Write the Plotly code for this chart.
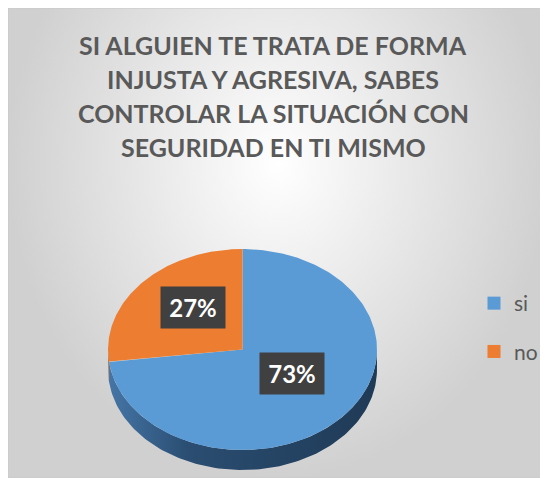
import numpy as np
import plotly.graph_objects as go

# ---- data ----
labels = ["si", "no"]
values = [73, 27]
slice_colors = ["#5B9BD5", "#ED7D31"]
side_scales = [
    [[0, "#4575a6"], [0.3, "#2a4d71"], [1, "#1f3a56"]],
    [[0, "#a85a22"], [1, "#8a4a1c"]],
]
title_lines = [
    "SI ALGUIEN TE TRATA DE FORMA",
    "INJUSTA Y AGRESIVA, SABES",
    "CONTROLAR LA SITUACIÓN CON",
    "SEGURIDAD EN TI MISMO",
]

# ---- geometry (layout constants, page pixel coordinates) ----
X0, Y0 = 8, 8          # page body margin offset
XE, YE = 548, 478      # window edges
FW, FH = XE - X0, YE - Y0
CX, CY, RX, RY, DEPTH = 242.5, 349.5, 134.5, 100.5, 20
LABEL_R, LABEL_DY = 0.49, -9
FONT = "Lato"
TXT = "#595959"

fig = go.Figure()

# background with radial gradient
fig.add_trace(go.Scatter(
    x=[X0, XE, XE, X0, X0], y=[-150, -150, YE, YE, -150],
    mode="lines", fill="toself", line=dict(width=0),
    fillgradient=dict(type="radial", colorscale=[[0, "#ffffff"], [1, "#d0d0d0"]]),
    hoverinfo="skip", showlegend=False,
))

total = float(sum(values))
fracs = np.array(values) / total
ends = np.cumsum(fracs) * 360.0
starts = ends - fracs * 360.0


def ell(theta_deg, dy=0.0):
    t = np.radians(theta_deg)
    return CX + RX * np.sin(t), CY - RY * np.cos(t) + dy


# side walls (front half: 90..270 degrees clockwise from top)
for i in range(len(values)):
    a0, a1 = max(starts[i], 90.0), min(ends[i], 270.0)
    if a1 <= a0:
        continue
    th = np.linspace(a0, a1, 120)
    xt, yt = ell(th)
    xb, yb = ell(th[::-1], DEPTH)
    xs = np.concatenate([xt, xb, xt[:1]])
    ys = np.concatenate([yt, yb, yt[:1]])
    fig.add_trace(go.Scatter(
        x=xs, y=ys, mode="lines", fill="toself", line=dict(width=0),
        fillgradient=dict(type="horizontal", colorscale=side_scales[i]),
        hoverinfo="skip", showlegend=False,
    ))

# top faces
for i in range(len(values)):
    th = np.linspace(starts[i], ends[i], 240)
    xa, ya = ell(th)
    xs = np.concatenate([[CX], xa, [CX]])
    ys = np.concatenate([[CY], ya, [CY]])
    fig.add_trace(go.Scatter(
        x=xs, y=ys, mode="lines", fill="toself", line=dict(width=0),
        fillcolor=slice_colors[i], hoverinfo="text",
        text=f"{labels[i]}: {values[i]}%", showlegend=False,
    ))

# legend entries
for i in range(len(values)):
    fig.add_trace(go.Scatter(
        x=[None], y=[None], mode="markers", name=labels[i],
        marker=dict(symbol="square", size=13, color=slice_colors[i]),
        legendgroup=labels[i],
    ))

annotations = []
# data labels
for i in range(len(values)):
    mid = (starts[i] + ends[i]) / 2.0
    t = np.radians(mid)
    lx = CX + LABEL_R * RX * np.sin(t)
    ly = CY - LABEL_R * RY * np.cos(t) + LABEL_DY
    annotations.append(dict(
        x=lx, y=ly, xref="x", yref="y", showarrow=False,
        text=f"<b>{round(fracs[i] * 100)}%</b>",
        font=dict(family=FONT, size=24, color="white"),
        bgcolor="#404040", width=62, height=39, borderpad=1,
        xanchor="center", yanchor="middle",
    ))

# title lines
for k, line in enumerate(title_lines):
    annotations.append(dict(
        x=273, y=45 + 34 * k, xref="x", yref="y", showarrow=False,
        text=f"<b>{line}</b>", font=dict(family=FONT, size=25, color=TXT),
        xanchor="center", yanchor="middle",
    ))

fig.update_layout(
    width=FW, height=FH,
    margin=dict(l=0, t=0, r=0, b=0, pad=0),
    paper_bgcolor="white", plot_bgcolor="white",
    xaxis=dict(range=[X0, XE], visible=False, fixedrange=True),
    yaxis=dict(range=[YE, Y0], visible=False, fixedrange=True),
    showlegend=True,
    legend=dict(
        x=(474 - X0) / FW, y=(YE - 283) / FH,
        xanchor="left", yanchor="top",
        font=dict(family=FONT, size=21, color=TXT),
        bgcolor="rgba(0,0,0,0)", tracegroupgap=18,
    ),
    annotations=annotations,
    shapes=[dict(type="rect", xref="paper", yref="paper", x0=0, x1=1, y0=0, y1=1,
                 line=dict(color="#c8c8c8", width=1))],
)

fig.write_html("out.html")
